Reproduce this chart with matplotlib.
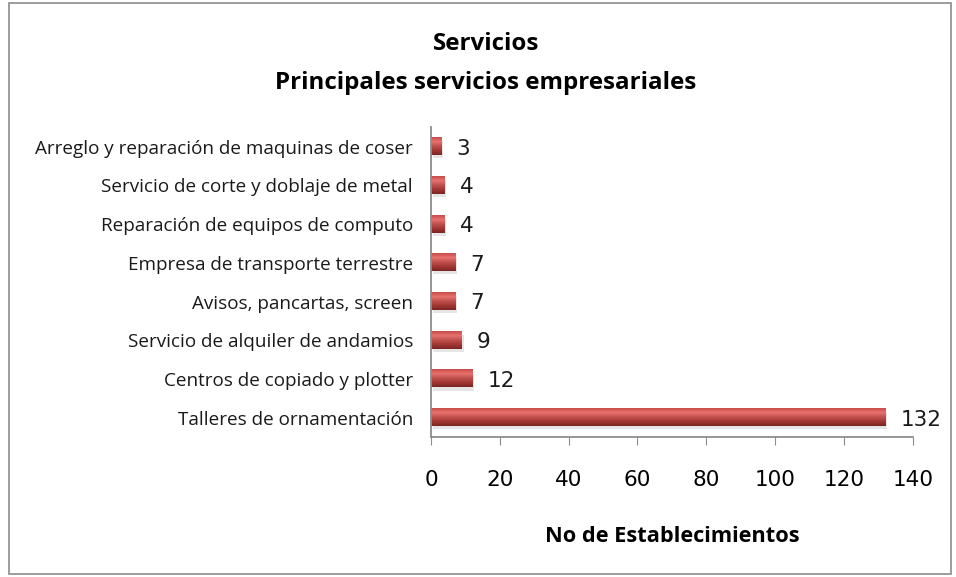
import numpy as np
import matplotlib.pyplot as plt
from matplotlib.colors import LinearSegmentedColormap
from matplotlib.patches import Rectangle

# Datos
categorias = ['Talleres de ornamentación',
              'Centros de copiado y plotter',
              'Servicio de alquiler de andamios',
              'Avisos, pancartas, screen',
              'Empresa de transporte terrestre',
              'Reparación de equipos de computo',
              'Servicio de corte y doblaje de metal',
              'Arreglo y reparación de maquinas de coser']
valores = [132, 12, 9, 7, 7, 4, 4, 3]
ticks_x = [0, 20, 40, 60, 80, 100, 120, 140]

plt.rcParams['font.family'] = ['Open Sans', 'DejaVu Sans']
num_font = ['DejaVu Sans']

fig = plt.figure(figsize=(9.56, 5.77), dpi=100)
fig.patches.append(Rectangle((0.009, 0.006), 0.986, 0.988, transform=fig.transFigure,
                             fill=False, edgecolor='#8c8c8c', linewidth=1.2))
ax = fig.add_axes([0.4508, 0.2426, 0.5039, 0.5366])

y = np.arange(len(valores))
alto = 0.44

# degradado tipo cilindro
cmap = LinearSegmentedColormap.from_list('cil', ['#7a2624', '#a23633', '#c0504d', '#e8726e', '#c84c48'])
grad = np.linspace(0, 1, 64).reshape(-1, 1)

for yi, v in zip(y, valores):
    # sombra
    ax.barh(yi - 0.08, v, height=alto, left=0.5, color='#d0d0d0', alpha=0.55, zorder=1)
    ax.imshow(grad, cmap=cmap, aspect='auto', extent=(0, v, yi - alto / 2, yi + alto / 2),
              origin='lower', zorder=2)
    ax.text(v + 4.4, yi - 0.05, str(v), va='center', ha='left', fontsize=15.5,
            color='#1a1a1a', family=num_font)

ax.set_xlim(0, 140)
ax.set_ylim(-0.5, len(valores) - 0.5)
ax.set_xticks(ticks_x)
ax.set_xticklabels([str(t) for t in ticks_x], fontsize=15.5, family=num_font)
ax.set_yticks(y)
ax.set_yticklabels(categorias, fontsize=13.6, color='#1a1a1a')
ax.tick_params(axis='y', length=0, pad=13)
ax.tick_params(axis='x', length=6, color='#8c8c8c', pad=18)
for s in ['top', 'right']:
    ax.spines[s].set_visible(False)
for s in ['left', 'bottom']:
    ax.spines[s].set_color('#8c8c8c')
    ax.spines[s].set_linewidth(1.3)

ax.set_xlabel('No de Establecimientos', fontsize=15.7, fontweight='bold', labelpad=26)
fig.text(0.508, 0.923, 'Servicios', ha='center', va='center', fontsize=17.4, fontweight='bold')
fig.text(0.508, 0.857, 'Principales servicios empresariales', ha='center', va='center',
         fontsize=17.4, fontweight='bold')

fig.savefig('out.png', dpi=100)
